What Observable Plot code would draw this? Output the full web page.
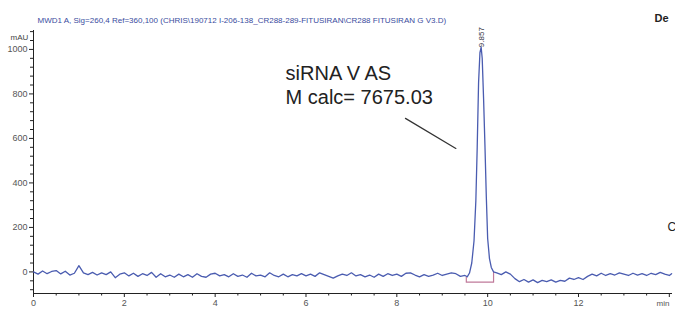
<!DOCTYPE html>
<html><head><meta charset="utf-8">
<script src="https://cdn.jsdelivr.net/npm/d3@7"></script>
<script src="https://cdn.jsdelivr.net/npm/@observablehq/plot@0.6"></script>
<style>body{margin:0;background:#fff}</style>
</head><body><div id="chart"></div>
<script>
const title = "MWD1 A, Sig=260,4 Ref=360,100 (CHRIS\\190712 I-206-138_CR288-289-FITUSIRAN\\CR288 FITUSIRAN G V3.D)";
const timeMin = [
 0.0,0.1,0.2,0.3,0.4,0.5,0.6,0.7,0.8,0.9,1.0,1.1,1.2,1.3,1.4,1.5,1.6,1.7,1.8,1.9,
 2.0,2.1,2.2,2.3,2.4,2.5,2.6,2.7,2.8,2.9,3.0,3.1,3.2,3.3,3.4,3.5,3.6,3.7,3.8,3.9,
 4.0,4.1,4.2,4.3,4.4,4.5,4.6,4.7,4.8,4.9,5.0,5.1,5.2,5.3,5.4,5.5,5.6,5.7,5.8,5.9,
 6.0,6.1,6.2,6.3,6.4,6.5,6.6,6.7,6.8,6.9,7.0,7.1,7.2,7.3,7.4,7.5,7.6,7.7,7.8,7.9,
 8.0,8.1,8.2,8.3,8.4,8.5,8.6,8.7,8.8,8.9,9.0,9.1,9.2,9.3,9.4,9.5,
 9.55,9.6,9.65,9.70,9.74,9.77,9.80,9.83,9.857,9.88,9.91,9.94,9.97,10.0,10.04,10.08,10.13,
 10.2,10.3,10.4,10.5,10.6,10.7,10.8,10.9,11.0,11.1,11.2,11.3,11.4,11.5,11.6,11.7,11.8,11.9,
 12.0,12.1,12.2,12.3,12.4,12.5,12.6,12.7,12.8,12.9,13.0,13.1,13.2,13.3,13.4,13.5,13.6,13.7,13.8,13.9,14.0,14.05
];
const absorbance = [
 0,-10,4,-8,2,6,-9,3,-14,-6,28,-4,-12,-2,-14,-4,-12,0,-26,-10,
 -4,-18,-6,-20,-8,-16,-2,-24,-8,-22,-14,-24,-10,-22,-12,-24,-8,-20,-24,-10,
 -6,-18,-12,-22,-8,-20,-14,-24,-6,-18,-14,-22,-4,-16,-22,-10,-22,-12,-18,-8,
 -18,-10,-20,-4,-12,-20,-28,-18,-10,-16,-4,-18,-12,-22,-14,-24,-10,-20,-8,-16,
 -10,-20,-6,-4,-14,-22,-12,-20,-14,-6,-16,-10,-4,-8,-20,-16,
 -22,-5,40,140,320,560,850,985,1010,960,780,570,340,150,60,20,0,
 -4,-12,0,-10,-30,-44,-34,-46,-36,-48,-38,-44,-36,-46,-38,-42,-28,-34,
 -26,-34,-20,-10,-18,-6,-16,-8,-14,-4,-10,-16,-6,-14,-8,-16,-6,-12,-2,-10,-16,-8
];
const integTime = [9.53, 9.53, 10.13, 10.13];
const integValue = [-23, -46, -46, -1];
const peakTime = [9.857];
const peakValue = [1010];
const peakLabel = ["9.857"];
const noteLines = ["siRNA V AS", "M calc= 7675.03"];
const noteTime = [5.55, 5.55];
const noteValue = [892, 784];
const pointerTime = [8.19, 9.30];
const pointerValue = [690, 555];
const yTickLabels = [0, 200, 400, 600, 800, 1000];
const yMinorTicks = [-80,-40,40,80,120,160,240,280,320,360,440,480,520,560,640,680,720,760,840,880,920,960,1040,1080];
const xTickLabels = [0, 2, 4, 6, 8, 10, 12, 14];
const xMinorTicks = [0.5,1,1.5,2.5,3,3.5,4.5,5,5.5,6.5,7,7.5,8.5,9,9.5,10.5,11,11.5,12.5,13,13.5];
const xUnit = ["min"];
const yUnit = ["mAU"];

const trace = timeMin.map((t, i) => ({t, v: absorbance[i]}));
const integ = integTime.map((t, i) => ({t, v: integValue[i]}));
const notes = noteLines.map((s, i) => ({s, t: noteTime[i], v: noteValue[i]}));
const pointer = pointerTime.map((t, i) => ({t, v: pointerValue[i]}));

const chart = Plot.plot({
  width: 675, height: 310,
  marginLeft: 33, marginRight: 3, marginTop: 30, marginBottom: 17,
  style: {fontFamily: "'Liberation Sans', Arial, sans-serif", background: "#fff", color: "#333"},
  x: {domain: [0, 14.07]},
  y: {domain: [-97, 1085]},
  marks: [
    Plot.axisY(yTickLabels, {tickSize: 4, tickPadding: 2, fontSize: 9, label: null, stroke: "#222", fill: "#555",
      tickFormat: d => String(d)}),
    Plot.axisY(yMinorTicks, {tickSize: 3, tickFormat: () => "", label: null, stroke: "#222"}),
    Plot.axisX(xTickLabels, {tickSize: 4, tickPadding: 2, fontSize: 9, label: null, stroke: "#222", fill: "#555",
      tickFormat: d => d === 14 ? "" : String(d)}),
    Plot.axisX(xMinorTicks, {tickSize: 2.5, tickFormat: () => "", label: null, stroke: "#222"}),
    Plot.ruleX([0], {stroke: "#222", strokeWidth: 1}),
    Plot.ruleY([-97], {stroke: "#222", strokeWidth: 1}),
    Plot.line(integ, {x: "t", y: "v", stroke: "#c07a9a", strokeWidth: 1.2}),
    Plot.line(trace, {x: "t", y: "v", stroke: "#4a5cb0", strokeWidth: 1.3, curve: "linear"}),
    Plot.text(peakLabel, {x: peakTime, y: peakValue, text: d => d, rotate: -90, textAnchor: "start", fontSize: 8, fill: "#334"}),
    Plot.text(notes, {x: "t", y: "v", text: "s", textAnchor: "start", fontSize: 20, fill: "#222"}),
    Plot.line(pointer, {x: "t", y: "v", stroke: "#333", strokeWidth: 1.2}),
    Plot.text([title], {frameAnchor: "top-left", dx: 4, dy: -13, textAnchor: "start", fontSize: 8, fill: "#3a4c9e"}),
    Plot.text(yUnit, {frameAnchor: "top-left", dx: -23, dy: 4, textAnchor: "start", fontSize: 8, fill: "#444"}),
    Plot.text(xUnit, {frameAnchor: "bottom-right", dx: -3, dy: 12, textAnchor: "end", fontSize: 8, fill: "#555"}),
    Plot.text(["De"], {frameAnchor: "top-right", dx: -18, dy: -16, textAnchor: "start", fontSize: 11, fontWeight: "bold", fill: "#222"}),
    Plot.text(["C"], {frameAnchor: "top-right", dx: -5, dy: 192, textAnchor: "start", fontSize: 12, fill: "#222"})
  ]
});
document.getElementById("chart").append(chart);
</script>
</body></html>
